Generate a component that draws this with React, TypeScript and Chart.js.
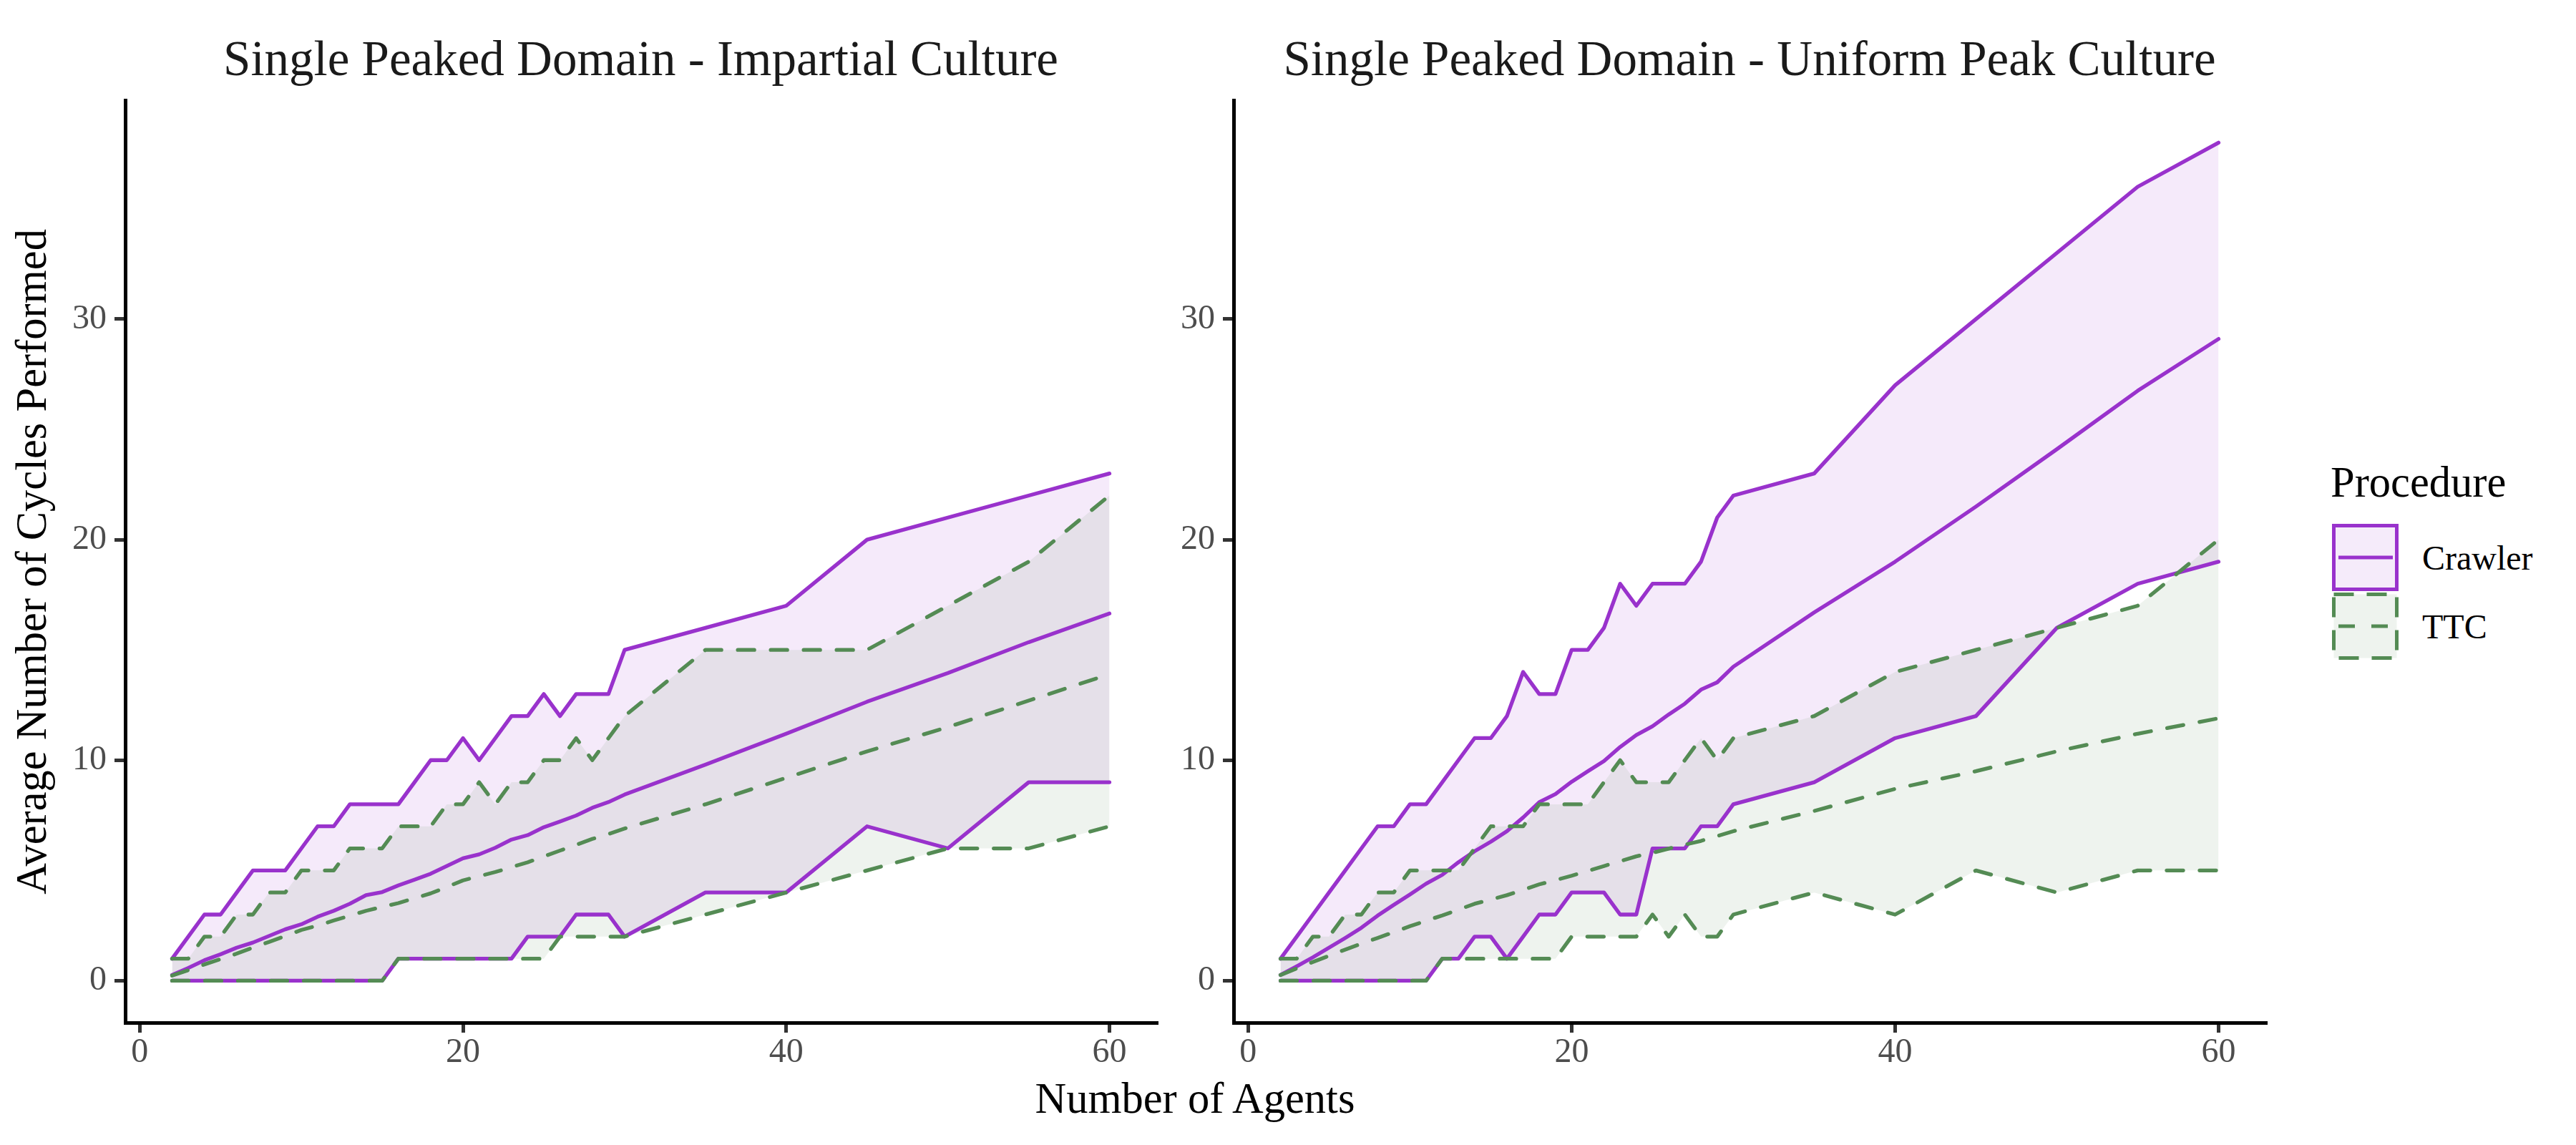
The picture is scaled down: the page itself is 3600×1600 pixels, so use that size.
import React, { useEffect, useRef } from 'react';
import { Chart, registerables } from 'chart.js';

Chart.register(...registerables);

// ---------- data ----------
const agents = [2, 3, 4, 5, 6, 7, 8, 9, 10, 11, 12, 13, 14, 15, 16, 17, 18, 19, 20, 21, 22, 23, 24, 25, 26, 27, 28, 29, 30, 35, 40, 45, 50, 55, 60];
const xTicks = [0, 20, 40, 60];
const yTicks = [0, 10, 20, 30];

// Impartial Culture panel
const icCrawlerMax = [1, 2, 3, 3, 4, 5, 5, 5, 6, 7, 7, 8, 8, 8, 8, 9, 10, 10, 11, 10, 11, 12, 12, 13, 12, 13, 13, 13, 15, 16, 17, 20, 21, 22, 23];
const icCrawlerMin = [0, 0, 0, 0, 0, 0, 0, 0, 0, 0, 0, 0, 0, 0, 1, 1, 1, 1, 1, 1, 1, 1, 2, 2, 2, 3, 3, 3, 2, 4, 4, 7, 6, 9, 9];
const icCrawlerMean = [0.26, 0.58, 0.93, 1.2, 1.5, 1.73, 2.03, 2.33, 2.56, 2.9, 3.17, 3.49, 3.88, 4.02, 4.32, 4.58, 4.85, 5.2, 5.55, 5.73, 6.03, 6.4, 6.6, 6.96, 7.22, 7.49, 7.84, 8.1, 8.44, 9.8, 11.2, 12.65, 13.95, 15.35, 16.65];
const icTtcMax = [1, 1, 2, 2, 3, 3, 4, 4, 5, 5, 5, 6, 6, 6, 7, 7, 7, 8, 8, 9, 8, 9, 9, 10, 10, 11, 10, 11, 12, 15, 15, 15, 17, 19, 22];
const icTtcMin = [0, 0, 0, 0, 0, 0, 0, 0, 0, 0, 0, 0, 0, 0, 1, 1, 1, 1, 1, 1, 1, 1, 1, 1, 2, 2, 2, 2, 2, 3, 4, 5, 6, 6, 7];
const icTtcMean = [0.23, 0.48, 0.74, 0.98, 1.23, 1.5, 1.76, 2.03, 2.3, 2.5, 2.73, 2.95, 3.17, 3.35, 3.52, 3.74, 3.96, 4.25, 4.55, 4.74, 4.93, 5.15, 5.37, 5.63, 5.9, 6.16, 6.43, 6.65, 6.9, 8.0, 9.2, 10.4, 11.5, 12.7, 13.9];

// Uniform Peak Culture panel
const upCrawlerMax = [1, 2, 3, 4, 5, 6, 7, 7, 8, 8, 9, 10, 11, 11, 12, 14, 13, 13, 15, 15, 16, 18, 17, 18, 18, 18, 19, 21, 22, 23, 27, 30, 33, 36, 38];
const upCrawlerMin = [0, 0, 0, 0, 0, 0, 0, 0, 0, 0, 1, 1, 2, 2, 1, 2, 3, 3, 4, 4, 4, 3, 3, 6, 6, 6, 7, 7, 8, 9, 11, 12, 16, 18, 19];
const upCrawlerMean = [0.26, 0.65, 1.06, 1.5, 1.94, 2.4, 2.95, 3.44, 3.91, 4.4, 4.8, 5.37, 5.87, 6.3, 6.78, 7.4, 8.1, 8.46, 9.02, 9.5, 9.96, 10.6, 11.14, 11.54, 12.07, 12.56, 13.2, 13.53, 14.24, 16.7, 19.0, 21.5, 24.1, 26.75, 29.1];
const upTtcMax = [1, 1, 2, 2, 3, 3, 4, 4, 5, 5, 5, 5, 6, 7, 7, 7, 8, 8, 8, 8, 9, 10, 9, 9, 9, 10, 11, 10, 11, 12, 14, 15, 16, 17, 20];
const upTtcMin = [0, 0, 0, 0, 0, 0, 0, 0, 0, 0, 1, 1, 1, 1, 1, 1, 1, 1, 2, 2, 2, 2, 2, 3, 2, 3, 2, 2, 3, 4, 3, 5, 4, 5, 5];
const upTtcMean = [0.26, 0.56, 0.85, 1.13, 1.41, 1.68, 1.94, 2.2, 2.47, 2.72, 2.96, 3.22, 3.49, 3.68, 3.88, 4.12, 4.37, 4.56, 4.76, 4.98, 5.2, 5.42, 5.64, 5.8, 5.99, 6.17, 6.34, 6.56, 6.78, 7.7, 8.7, 9.5, 10.4, 11.2, 11.9];

const titles = ['Single Peaked Domain - Impartial Culture', 'Single Peaked Domain - Uniform Peak Culture'];
const yAxisTitle = 'Average Number of Cycles Performed';
const xAxisTitle = 'Number of Agents';
const legendTitle = 'Procedure';
const seriesNames = ['Crawler', 'TTC'];

// ---------- style ----------
const SERIF = "'Liberation Serif', 'Times New Roman', serif";
const PURPLE = '#9932CC';
const GREEN = '#548B54';
const PURPLE_FILL = 'rgba(153,50,204,0.1)';
const GREEN_FILL = 'rgba(84,139,84,0.1)';
const DASH = [23, 23];
const LINE_W = 5.3;

type PanelProps = {
  title: string;
  crMax: number[];
  crMin: number[];
  crMean: number[];
  ttMax: number[];
  ttMin: number[];
  ttMean: number[];
  left: number;
  width: number;
  yAxisWidth: number;
  padRight: number;
  showYTitle: boolean;
};

function Panel(p: PanelProps) {
  const ref = useRef<HTMLCanvasElement>(null);
  useEffect(() => {
    if (!ref.current) return;
    const pts = (vals: number[]) => agents.map((a, i) => ({ x: a, y: vals[i] }));
    const line = (label: string, vals: number[], color: string, dashed: boolean, fill?: any) => ({
      label,
      data: pts(vals),
      borderColor: color,
      backgroundColor: 'transparent',
      borderWidth: LINE_W,
      borderDash: dashed ? DASH : [],
      borderCapStyle: 'round',
      borderJoinStyle: 'round',
      pointRadius: 0,
      pointHoverRadius: 0,
      tension: 0,
      fill: fill ?? false,
    });
    const datasets = [
      line('TTC max', p.ttMax, GREEN, true, { target: 1, above: GREEN_FILL, below: GREEN_FILL }),
      line('TTC min', p.ttMin, GREEN, true),
      line('TTC mean', p.ttMean, GREEN, true),
      line('Crawler max', p.crMax, PURPLE, false, { target: 4, above: PURPLE_FILL, below: PURPLE_FILL }),
      line('Crawler min', p.crMin, PURPLE, false),
      line('Crawler mean', p.crMean, PURPLE, false),
    ];
    const tickFont = { family: SERIF, size: 48 };
    const chart = new Chart(ref.current, {
      type: 'line',
      data: { datasets } as any,
      options: {
        animation: false,
        responsive: false,
        devicePixelRatio: 1,
        events: [],
        layout: { padding: { left: 0, right: p.padRight, top: 0, bottom: 0 } },
        plugins: {
          legend: { display: false },
          tooltip: { enabled: false },
          filler: { drawTime: 'beforeDatasetsDraw', propagate: false },
          title: {
            display: true,
            text: p.title,
            fullSize: false,
            color: '#1A1A1A',
            font: { family: SERIF, size: 69, weight: 'normal', lineHeight: 1.2 },
            padding: { top: 45, bottom: 13 },
          },
        },
        scales: {
          x: {
            type: 'linear',
            min: -0.9,
            max: 62.9,
            afterBuildTicks: (s: any) => {
              s.ticks = xTicks.map((v) => ({ value: v }));
            },
            afterFit: (s: any) => {
              s.height = 171;
            },
            ticks: { font: tickFont, color: '#4D4D4D', padding: 0, maxRotation: 0, autoSkip: false },
            grid: { display: true, drawOnChartArea: false, drawTicks: true, tickLength: 14, color: '#333333', lineWidth: 5 },
            border: { display: true, color: '#000000', width: 5 },
          },
          y: {
            type: 'linear',
            min: -1.9,
            max: 39.9,
            afterBuildTicks: (s: any) => {
              s.ticks = yTicks.map((v) => ({ value: v }));
            },
            afterFit: (s: any) => {
              s.width = p.yAxisWidth;
            },
            ticks: { font: tickFont, color: '#4D4D4D', padding: 11 },
            grid: { display: true, drawOnChartArea: false, drawTicks: true, tickLength: 15, color: '#333333', lineWidth: 5 },
            border: { display: true, color: '#000000', width: 5 },
            title: {
              display: p.showYTitle,
              text: yAxisTitle,
              color: '#000000',
              font: { family: SERIF, size: 60.5, weight: 'normal', lineHeight: 1.2 },
              padding: { top: 12, bottom: 0 },
            },
          },
        },
      } as any,
    });
    return () => chart.destroy();
  }, []);
  return (
    <canvas
      ref={ref}
      width={p.width}
      height={1600}
      style={{ position: 'absolute', left: p.left, top: 0, width: p.width, height: 1600, display: 'block' }}
    />
  );
}

function Legend() {
  return (
    <>
      <div style={{ position: 'absolute', left: 3257, top: 644, fontSize: 60.5, lineHeight: '60.5px', color: '#000', whiteSpace: 'nowrap' }}>
        {legendTitle}
      </div>
      <svg style={{ position: 'absolute', left: 3240, top: 720 }} width={130} height={220}>
        <rect x={21.5} y={14.5} width={88} height={89} fill="#F5EBFA" stroke={PURPLE} strokeWidth={5} />
        <line x1={28} y1={59} x2={104} y2={59} stroke={PURPLE} strokeWidth={5} />
        <rect x={21.5} y={110.5} width={88} height={89} fill="#EEF3EE" stroke={GREEN} strokeWidth={5} strokeDasharray="28 18" />
        <line x1={28} y1={155} x2={104} y2={155} stroke={GREEN} strokeWidth={5} strokeDasharray="23 23" />
      </svg>
      <div style={{ position: 'absolute', left: 3385, top: 756, fontSize: 48, lineHeight: '48px', color: '#000', whiteSpace: 'nowrap' }}>
        {seriesNames[0]}
      </div>
      <div style={{ position: 'absolute', left: 3385, top: 852, fontSize: 48, lineHeight: '48px', color: '#000', whiteSpace: 'nowrap' }}>
        {seriesNames[1]}
      </div>
    </>
  );
}

export default function App() {
  useEffect(() => {
    document.body.style.margin = '0';
  }, []);
  return (
    <div
      style={{
        position: 'absolute',
        left: 0,
        top: 0,
        width: 3600,
        height: 1600,
        background: '#ffffff',
        fontFamily: SERIF,
        overflow: 'hidden',
      }}
    >
      <Panel
        title={titles[0]}
        crMax={icCrawlerMax}
        crMin={icCrawlerMin}
        crMean={icCrawlerMean}
        ttMax={icTtcMax}
        ttMin={icTtcMin}
        ttMean={icTtcMean}
        left={0}
        width={1640}
        yAxisWidth={175}
        padRight={24}
        showYTitle={true}
      />
      <Panel
        title={titles[1]}
        crMax={upCrawlerMax}
        crMin={upCrawlerMin}
        crMean={upCrawlerMean}
        ttMax={upTtcMax}
        ttMin={upTtcMin}
        ttMean={upTtcMean}
        left={1640}
        width={1550}
        yAxisWidth={84}
        padRight={24}
        showYTitle={false}
      />
      <div
        style={{
          position: 'absolute',
          left: 1670,
          top: 1505,
          transform: 'translateX(-50%)',
          fontSize: 60.5,
          lineHeight: '60.5px',
          color: '#000',
          whiteSpace: 'nowrap',
        }}
      >
        {xAxisTitle}
      </div>
      <Legend />
    </div>
  );
}
